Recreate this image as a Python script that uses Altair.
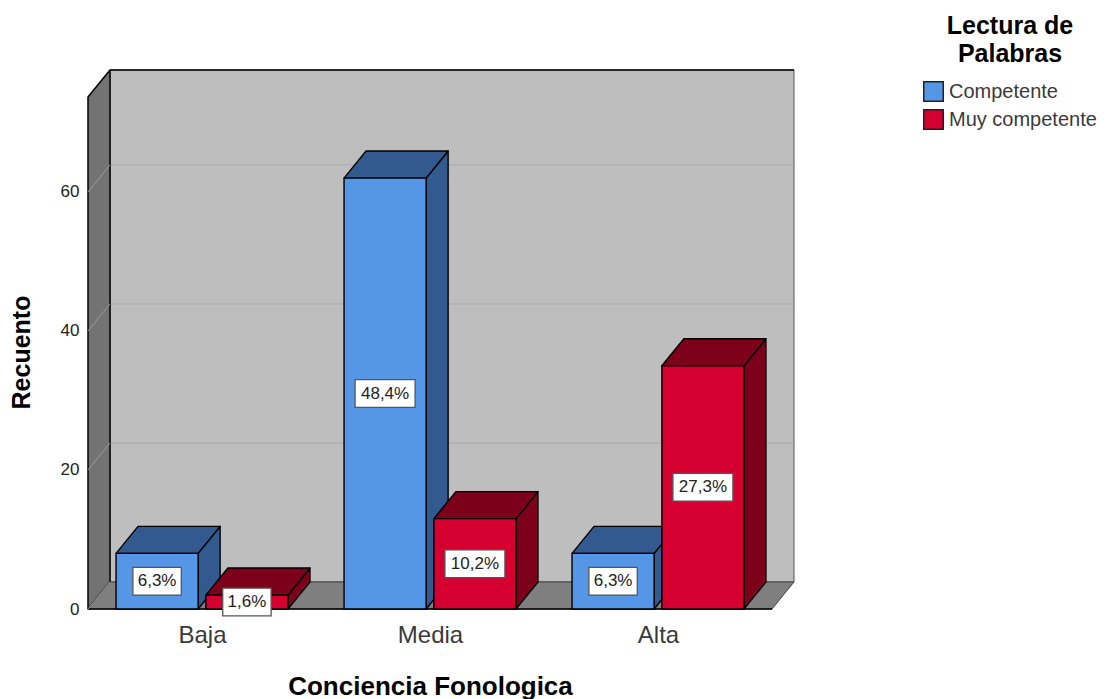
import json
import altair as alt
import pandas as pd

categories = ["Baja", "Media", "Alta"]
series = ["Competente", "Muy competente"]
competente = [8, 62, 8]
muy_competente = [2, 13, 35]
pct_competente = ["6,3%", "48,4%", "6,3%"]
pct_muy = ["1,6%", "10,2%", "27,3%"]
y_ticks = [0, 20, 40, 60]

FRONT = {"Competente": "#5596E6", "Muy competente": "#D5002F"}
DARK = {"Competente": "#335A8F", "Muy competente": "#7D001B"}
FONT = "Liberation Sans"

# depth of the 3-D box in axis units
DX, DY = 0.0965, 3.89
X0, X1 = -0.5, 2.5
YTOP = 73.67
BAR_OFF, BAR_HALF = 0.197, 0.18


def top_face(a, b, y, id_, shade):
    return [
        dict(x=a, y=y, y2=y, id=id_, shade=shade),
        dict(x=a + DX, y=y + DY, y2=y, id=id_, shade=shade),
        dict(x=b, y=y + DY, y2=y, id=id_, shade=shade),
        dict(x=b + DX, y=y + DY, y2=y + DY, id=id_, shade=shade),
    ]


def side_face(x, lo, hi, id_, shade):
    return [
        dict(x=x, y=hi, y2=lo, id=id_, shade=shade),
        dict(x=x + DX, y=hi + DY, y2=lo + DY, id=id_, shade=shade),
    ]


fronts, sides, tops, boxes = [], [], [], []
for g in range(len(categories)):
    for s, vals, pcts, sign in (
        (series[0], competente, pct_competente, -1),
        (series[1], muy_competente, pct_muy, 1),
    ):
        v = vals[g]
        c = g + sign * BAR_OFF
        a, b = c - BAR_HALF, c + BAR_HALF
        fronts.append(dict(x=a, x2=b, y=0, y2=v, serie=s))
        sides += side_face(b, 0, v, f"s{g}{s}", DARK[s])
        tops += top_face(a, b, v, f"t{g}{s}", DARK[s])
        hw = (len(pcts[g]) * 5.8 + 1) / 228
        cy = v / 2
        boxes.append(dict(x=c - hw, x2=c + hw, y=cy - 2.0, y2=cy + 2.0, xc=c, yc=cy, label=pcts[g]))

xs = alt.Scale(domain=[X0, X1 + DX], nice=False, zero=False)
ys = alt.Scale(domain=[0, 77.55], nice=False, zero=False)
x_axis = alt.Axis(
    values=[0, 1, 2], labelExpr=f"{json.dumps(categories)}[datum.value]",
    title="Conciencia Fonologica", titleFont=FONT, titleFontSize=26, titleFontWeight="bold",
    titleColor="#000", titlePadding=26, titleX=342,
    labelFont=FONT, labelFontSize=24, labelColor="#3A3A3A", labelPadding=14, labelFontWeight="normal",
    ticks=False, domain=False, grid=False, labelFlush=False)
y_axis = alt.Axis(
    values=y_ticks, title="Recuento", titleFont=FONT, titleFontSize=25, titleFontWeight="bold",
    titleColor="#000", titlePadding=26, titleY=282,
    labelFont=FONT, labelFontSize=17, labelColor="#222", labelPadding=9,
    ticks=False, domain=False, grid=False)
X = alt.X("x:Q", scale=xs, axis=x_axis)
Y = alt.Y("y:Q", scale=ys, axis=y_axis, stack=None)


def faces(rows, **mk):
    return alt.Chart(pd.DataFrame(rows)).mark_area(strokeJoin="round", **mk).encode(
        x=X, y=Y, y2="y2:Q", detail="id:N",
        fill=alt.Fill("shade:N", scale=None, legend=None),
    )


wall = alt.Chart(pd.DataFrame([dict(x=X0 + DX, x2=X1 + DX, y=DY, y2=77.55)])).mark_rect(
    fill="#BEBEBE", stroke="#555555", strokeWidth=1
).encode(x=X, x2="x2:Q", y=Y, y2="y2:Q")

grid_back = alt.Chart(pd.DataFrame([dict(y=v + DY, x=X0 + DX, x2=X1 + DX) for v in y_ticks[1:]])).mark_rule(
    color="#A8A8A8", strokeWidth=1
).encode(x=X, x2="x2:Q", y=Y)

top_edge = alt.Chart(pd.DataFrame([dict(x=X0 + DX, x2=X1 + DX, y=77.55)])).mark_rule(
    color="#000", strokeWidth=1.5
).encode(x=X, x2="x2:Q", y=Y)

left_wall = faces(side_face(X0, 0, YTOP, "lw", "#737373"), stroke="#000", strokeWidth=1.5)

floor = faces(top_face(X0, X1, 0, "fl", "#7F7F7F"), stroke="#444", strokeWidth=1)

front_edge = alt.Chart(pd.DataFrame([dict(x=X0, x2=X1, y=0)])).mark_rule(
    color="#000", strokeWidth=1.5
).encode(x=X, x2="x2:Q", y=Y)

lw_rows = []
for v in y_ticks:
    lw_rows += [dict(x=X0, y=v, id=str(v)), dict(x=X0 + DX, y=v + DY, id=str(v))]
grid_left = alt.Chart(pd.DataFrame(lw_rows)).mark_line(color="#9C9C9C", strokeWidth=1).encode(
    x=X, y=Y, detail="id:N"
)

side_layer = faces(sides, stroke="#000", strokeWidth=1.4)
top_layer = faces(tops, stroke="#000", strokeWidth=1.4)

front_layer = alt.Chart(pd.DataFrame(fronts)).mark_rect(stroke="#000", strokeWidth=1.4).encode(
    x=X, x2="x2:Q", y=Y, y2="y2:Q",
    color=alt.Color("serie:N", scale=alt.Scale(domain=series, range=[FRONT[s] for s in series]),
                    legend=alt.Legend(
                        orient="none", legendX=835, legendY=-56,
                        title=["Lectura de", "Palabras"], titleFont=FONT, titleFontSize=25, titleFontWeight="bold",
                        titleColor="#000", titleAlign="center", titleAnchor="middle", titleLineHeight=28,
                        titlePadding=14,
                        labelFont=FONT, labelFontSize=20, labelColor="#3A3A3A", labelOffset=5,
                        symbolType="square", symbolSize=380, symbolStrokeColor="#222", symbolStrokeWidth=1.5,
                        symbolOpacity=1, rowPadding=1, labelLimit=300,
                    )),
)

box_df = pd.DataFrame(boxes)
box_layer = alt.Chart(box_df).mark_rect(fill="#FFFFFF", stroke="#555555", strokeWidth=1.3).encode(
    x=X, x2="x2:Q", y=Y, y2="y2:Q"
)
text_layer = alt.Chart(box_df).mark_text(font=FONT, fontSize=17, color="#222").encode(
    x=alt.X("xc:Q", scale=xs, axis=x_axis),
    y=alt.Y("yc:Q", scale=ys, axis=y_axis),
    text="label:N",
)

chart = alt.layer(
    wall, grid_back, top_edge, left_wall, floor, front_edge, grid_left,
    side_layer, top_layer, front_layer, box_layer, text_layer,
).properties(
    width=706, height=539,
    padding={"left": 80, "top": 62, "right": 305, "bottom": 90},
    autosize=alt.AutoSizeParams(type="none"),
    background="#FFFFFF",
).configure_view(stroke=None)

chart.save("out.html", embed_options={"renderer": "svg", "actions": False})
